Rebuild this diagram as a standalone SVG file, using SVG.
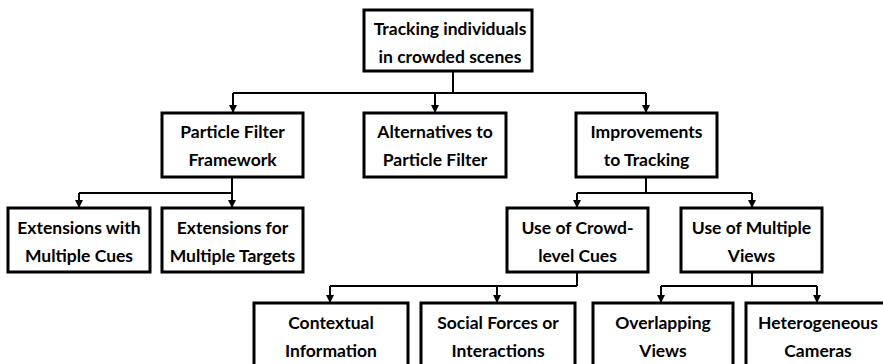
<svg xmlns="http://www.w3.org/2000/svg" width="883" height="364" viewBox="0 0 883 364">
<style>
.box{fill:#fff;stroke:#000;stroke-width:3}
.lbl{font-family:Lato,"Liberation Sans",sans-serif;font-weight:bold;font-size:17.5px;fill:#000;text-anchor:middle}
.c{fill:none;stroke:#000;stroke-width:2}
.a{fill:none;stroke:#000;stroke-width:2;marker-end:url(#ah)}
</style>
<defs>
<marker id="ah" markerUnits="userSpaceOnUse" markerWidth="8" markerHeight="8" viewBox="0 0 8 8" refX="8" refY="4" orient="auto">
<path d="M0,0 L8,4 L0,8 Z" fill="#000"/>
</marker>
</defs>
<rect width="883" height="364" fill="#fff"/>
<g id="connectors">
<path class="c" d="M453,71 V93 M233,93 H646"/>
<path class="a" d="M233,93 V113"/>
<path class="a" d="M435,93 V113"/>
<path class="a" d="M646,93 V113"/>
<path class="c" d="M232,177 V193 M79,193 H232"/>
<path class="a" d="M79,193 V208"/>
<path class="a" d="M232,193 V208"/>
<path class="c" d="M646,177 V193 M577,193 H752"/>
<path class="a" d="M577,193 V208"/>
<path class="a" d="M752,193 V208"/>
<path class="c" d="M577,272 V286 M330,286 H577"/>
<path class="a" d="M330,286 V303"/>
<path class="a" d="M497,286 V303"/>
<path class="c" d="M752,272 V286 M661,286 H817"/>
<path class="a" d="M661,286 V303"/>
<path class="a" d="M817,286 V303"/>
</g>
<g id="root">
<rect class="box" x="364" y="10" width="168" height="61"/>
<text class="lbl" x="450" y="35">Tracking individuals</text>
<text class="lbl" x="450" y="63">in crowded scenes</text>
</g>
<g id="pf">
<rect class="box" x="162" y="113" width="141" height="64"/>
<text class="lbl" x="232.5" y="138">Particle Filter</text>
<text class="lbl" x="232.5" y="166">Framework</text>
</g>
<g id="alt">
<rect class="box" x="364" y="113" width="142" height="64"/>
<text class="lbl" x="435" y="138">Alternatives to</text>
<text class="lbl" x="435" y="166">Particle Filter</text>
</g>
<g id="imp">
<rect class="box" x="576" y="113" width="141" height="64"/>
<text class="lbl" x="646.5" y="138">Improvements</text>
<text class="lbl" x="646.5" y="166">to Tracking</text>
</g>
<g id="extcues">
<rect class="box" x="8" y="208" width="142" height="64"/>
<text class="lbl" x="79" y="234">Extensions with</text>
<text class="lbl" x="79" y="262">Multiple Cues</text>
</g>
<g id="exttargets">
<rect class="box" x="162" y="208" width="141" height="64"/>
<text class="lbl" x="232.5" y="234">Extensions for</text>
<text class="lbl" x="232.5" y="262">Multiple Targets</text>
</g>
<g id="crowd">
<rect class="box" x="507" y="208" width="141" height="64"/>
<text class="lbl" x="577.5" y="234">Use of Crowd-</text>
<text class="lbl" x="577.5" y="262">level Cues</text>
</g>
<g id="views">
<rect class="box" x="681" y="208" width="141" height="64"/>
<text class="lbl" x="751.5" y="234">Use of Multiple</text>
<text class="lbl" x="751.5" y="262">Views</text>
</g>
<g id="context">
<rect class="box" x="254" y="303" width="154" height="70"/>
<text class="lbl" x="331" y="329">Contextual</text>
<text class="lbl" x="331" y="357">Information</text>
</g>
<g id="social">
<rect class="box" x="421" y="303" width="154" height="70"/>
<text class="lbl" x="498" y="329">Social Forces or</text>
<text class="lbl" x="498" y="357">Interactions</text>
</g>
<g id="overlap">
<rect class="box" x="593" y="303" width="140" height="70"/>
<text class="lbl" x="663" y="329">Overlapping</text>
<text class="lbl" x="663" y="357">Views</text>
</g>
<g id="hetero">
<rect class="box" x="746" y="303" width="160" height="70"/>
<text class="lbl" x="818" y="329">Heterogeneous</text>
<text class="lbl" x="818" y="357">Cameras</text>
</g>
</svg>
